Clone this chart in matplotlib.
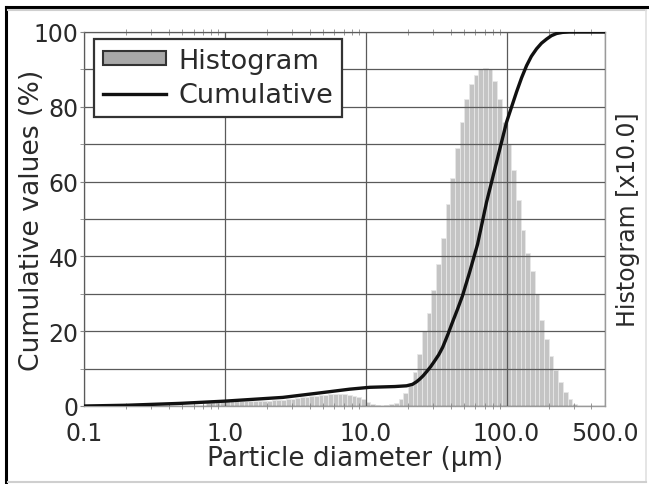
import matplotlib.pyplot as plt
from matplotlib.lines import Line2D
from matplotlib.patches import Patch
from matplotlib.ticker import FixedLocator, NullFormatter

plt.rcParams['font.family'] = ['DejaVu Sans']

# particle size classes (um), 30 classes per decade, lower edges + last upper edge
bin_edges = [
    0.1000, 0.1080, 0.1166, 0.1259, 0.1359, 0.1468, 0.1585, 0.1711, 0.1848, 0.1995,
    0.2154, 0.2326, 0.2512, 0.2712, 0.2929, 0.3162, 0.3415, 0.3687, 0.3981, 0.4299,
    0.4642, 0.5012, 0.5412, 0.5843, 0.6310, 0.6813, 0.7356, 0.7943, 0.8577, 0.9261,
    1.000, 1.080, 1.166, 1.259, 1.359, 1.468, 1.585, 1.711, 1.848, 1.995,
    2.154, 2.326, 2.512, 2.712, 2.929, 3.162, 3.415, 3.687, 3.981, 4.299,
    4.642, 5.012, 5.412, 5.843, 6.310, 6.813, 7.356, 7.943, 8.577, 9.261,
    10.00, 10.80, 11.66, 12.59, 13.59, 14.68, 15.85, 17.11, 18.48, 19.95,
    21.54, 23.26, 25.12, 27.12, 29.29, 31.62, 34.15, 36.87, 39.81, 42.99,
    46.42, 50.12, 54.12, 58.43, 63.10, 68.13, 73.56, 79.43, 85.77, 92.61,
    100.0, 108.0, 116.6, 125.9, 135.9, 146.8, 158.5, 171.1, 184.8, 199.5,
    215.4, 232.6, 251.2, 271.2, 292.9, 316.2, 341.5, 368.7, 398.1, 429.9,
    464.2, 501.2,
]

# frequency per class (q% x 10)
hist_values = [
    0, 0, 0, 0, 0, 0, 0, 0, 0.5, 0.6,
    0.6, 0.6, 0.5, 0.4, 0, 0, 0, 0, 0, 0,
    0, 0, 0, 0, 0, 0, 1.2, 1.6, 1.7, 1.7,
    1.6, 1.5, 1.5, 1.4, 1.4, 1.3, 1.3, 1.3, 1.4, 1.4,
    1.5, 1.6, 1.7, 1.8, 2.0, 2.1, 2.3, 2.4, 2.6, 2.7,
    2.9, 3.0, 3.1, 3.2, 3.2, 3.1, 3.0, 2.7, 2.3, 1.8,
    1.2, 0.6, 0.2, 0.1, 0.2, 0.5, 0.9, 1.8, 3.5, 6,
    9, 14, 20, 25, 31, 38, 45, 54, 61, 69,
    76, 82, 86, 88.5, 90, 90.5, 90, 87, 82, 76,
    70, 63, 55, 47, 41, 36, 30, 23, 18, 13.5,
    9.5, 6.3, 3.8, 1.8, 0.6, 0, 0, 0, 0, 0,
    0,
]

# cumulative undersize curve
cum_size = [0.1, 0.2, 0.48, 1.0, 2.58, 4.49, 7.7, 10.7, 16.1, 19.5, 21.5, 23.0,
            24.2, 25.6, 27.1, 28.9, 30.8, 33.0, 35.2, 38.2, 41.4, 45.0, 48.7,
            54.7, 62.3, 72.1, 84.9, 100.0, 117.8, 128.0, 138.7, 150.0, 163.3,
            177.0, 192.3, 208.0, 226.4, 250.0, 280.0, 500.0]
cum_pct = [0, 0.2, 0.7, 1.3, 2.3, 3.4, 4.5, 5.0, 5.2, 5.4, 5.8, 6.5,
           7.2, 8.1, 9.2, 10.5, 12.0, 13.7, 15.7, 19.0, 22.5, 26.0, 29.5,
           35.8, 43.3, 54.5, 65.2, 75.9, 84.0, 87.8, 91.0, 93.5, 95.5,
           97.0, 98.1, 99.0, 99.6, 99.9, 100.0, 100.0]

x_ticks = [0.1, 1.0, 10.0, 100.0, 500.0]
x_labels = ['0.1', '1.0', '10.0', '100.0', '500.0']
y_ticks = [0, 20, 40, 60, 80, 100]

txt = '#2a2a2a'

fig = plt.figure(figsize=(6.49, 4.85), dpi=100)
ax = fig.add_axes([84 / 649, 1 - 407 / 485, 521 / 649, 374 / 485])

widths = [b - a for a, b in zip(bin_edges[:-1], bin_edges[1:])]
ax.bar(bin_edges[:-1], hist_values, width=widths, align='edge',
       color='#c4c4c4', edgecolor='#e8e8e8', linewidth=0.6, zorder=1)
ax.plot(cum_size, cum_pct, color='#111111', lw=2.4, zorder=4,
        solid_capstyle='butt', solid_joinstyle='round')

ax.set_xscale('log')
ax.set_xlim(0.1, 500)
ax.set_ylim(0, 100)
ax.set_xticks(x_ticks)
ax.set_xticklabels(x_labels)
minor_x = [m * d for d in (0.1, 1, 10, 100) for m in range(2, 10) if m * d < 500]
ax.xaxis.set_minor_locator(FixedLocator(minor_x))
ax.xaxis.set_minor_formatter(NullFormatter())
ax.set_yticks(y_ticks)
ax.set_yticks([10, 30, 50, 70, 90], minor=True)

ax.set_axisbelow(False)
ax.grid(True, which='major', axis='x', color='#5a5a5a', lw=0.9, zorder=2)
ax.grid(True, which='both', axis='y', color='#5a5a5a', lw=0.9, zorder=2)

ax.tick_params(axis='x', which='major', length=0, pad=11, labelsize=17,
               labelcolor=txt)
ax.tick_params(axis='x', which='minor', direction='inout', length=4,
               color='#888888', top=True)
ax.tick_params(axis='y', which='both', direction='out', length=3,
               color='#888888', pad=1, labelsize=17, labelcolor=txt)
for s in ax.spines.values():
    s.set_color('#9a9a9a')
    s.set_linewidth(1.0)

ax.set_xlabel('Particle diameter (µm)', fontsize=18.9, color=txt)
ax.xaxis.set_label_coords(0.52, -0.104)
ax.set_ylabel('Cumulative values (%)', fontsize=19.2, color=txt)
ax.yaxis.set_label_coords(-0.074, 0.5)

ax2 = ax.twinx()
ax2.set_yticks([])
ax2.set_ylabel('Histogram [x10.0]', fontsize=17, color=txt, labelpad=8)
for s in ax2.spines.values():
    s.set_visible(False)

handles = [Patch(facecolor='#a8a8a8', edgecolor='#333333', linewidth=1.5),
           Line2D([], [], color='#111111', lw=2.4)]
leg = ax.legend(handles, ['Histogram', 'Cumulative'], loc='upper left',
                bbox_to_anchor=(0.019, 0.981), fontsize=19.5, frameon=True,
                fancybox=False, framealpha=1, edgecolor='#333333',
                handlelength=2.33, handleheight=0.42, handletextpad=0.45,
                borderpad=0.33, labelspacing=0.3, borderaxespad=0)
leg.get_frame().set_linewidth(1.6)
for t in leg.get_texts():
    t.set_color(txt)
leg.set_zorder(5)

# outer frame
fig.add_artist(Line2D([6 / 649, 1], [1 - 7.5 / 485] * 2, color='black', lw=2.2))
fig.add_artist(Line2D([6 / 649] * 2, [0, 1 - 7.5 / 485], color='black', lw=2.2))
fig.add_artist(Line2D([8 / 649, 646 / 649], [1 - 10.5 / 485] * 2, color='#cfcfcf', lw=1.5))
fig.add_artist(Line2D([646 / 649] * 2, [2 / 485, 1 - 10.5 / 485], color='#e0e0e0', lw=1.2))
fig.add_artist(Line2D([8 / 649, 646 / 649], [2.5 / 485] * 2, color='#cfcfcf', lw=1.5))

fig.savefig('out.png', dpi=100)
